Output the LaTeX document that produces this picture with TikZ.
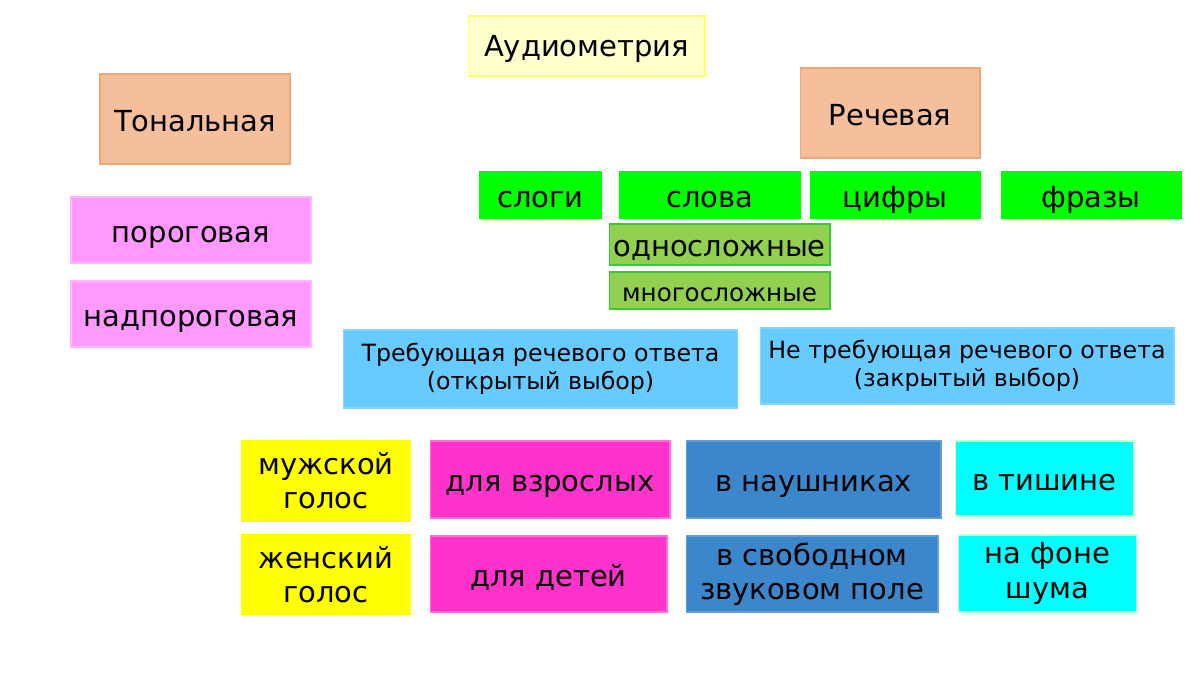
\documentclass[tikz,border=0pt]{standalone}
\usepackage{fontspec}
\setmainfont{DejaVu Sans}

\definecolor{lightyel}{HTML}{FFFFCC}
\definecolor{yelline}{HTML}{FFFF66}
\definecolor{pureyellow}{HTML}{FFFF00}
\definecolor{peach}{HTML}{F5BF9B}
\definecolor{peachline}{HTML}{F0A878}
\definecolor{pinklight}{HTML}{FF99FF}
\definecolor{brightgreen}{HTML}{00FF00}
\definecolor{olivegreen}{HTML}{92D050}
\definecolor{oliveline}{HTML}{33CC33}
\definecolor{skyblue}{HTML}{66CCFF}
\definecolor{hotpink}{HTML}{FF33CC}
\definecolor{midblue}{HTML}{3C87CC}
\definecolor{aqua}{HTML}{00FFFF}
\definecolor{aqualine}{HTML}{CCFFCC}

\begin{document}
\begin{tikzpicture}[x=0.02cm, y=-0.02cm,
    box/.style={rectangle, inner sep=0pt, outer sep=0pt, line width=0.6pt,
      font=\fontsize{16.5}{19.5}\selectfont, text height=14pt, text depth=0pt},
    twoline/.style={align=center, text height=, text depth=},
    small/.style={font=\fontsize{13.5}{16}\selectfont}]
    \useasboundingbox[fill=white] (0,0) rectangle (1200,675);

    % title
    \node[box, draw=yelline, fill=lightyel, minimum width=4.74cm, minimum height=1.2cm,
      text height=12.5pt]
      (audio) at (586.5,46) {Аудиометрия};

    % tonal branch
    \node[box, draw=peachline, fill=peach, minimum width=3.8cm, minimum height=1.8cm]
      (tonal) at (195,119) {Тональная};
    \node[box, draw=pinklight!70, fill=pinklight, minimum width=4.8cm, minimum height=1.32cm]
      (porog) at (191,230) {пороговая};
    \node[box, draw=pinklight!70, fill=pinklight, minimum width=4.8cm, minimum height=1.32cm]
      (nadporog) at (191,314) {надпороговая};

    % speech branch
    \node[box, draw=peachline, fill=peach, minimum width=3.6cm, minimum height=1.8cm]
      (speech) at (890,113) {Речевая};
    \node[box, draw=brightgreen, fill=brightgreen, minimum width=2.42cm, minimum height=0.92cm,
      text height=14.7pt]
      (slogi) at (540.5,195) {слоги};
    \node[box, draw=brightgreen, fill=brightgreen, minimum width=3.6cm, minimum height=0.92cm,
      text height=14.7pt]
      (slova) at (710,195) {слова};
    \node[box, draw=brightgreen, fill=brightgreen, minimum width=3.4cm, minimum height=0.92cm,
      text height=14.7pt]
      (cifry) at (895,195) {цифры};
    \node[box, draw=brightgreen, fill=brightgreen, minimum width=3.6cm, minimum height=0.92cm,
      text height=14.7pt]
      (frazy) at (1091,195) {фразы};
    \node[box, draw=oliveline, fill=olivegreen, minimum width=4.42cm, minimum height=0.82cm]
      (odno) at (719.5,244.5) {односложные};
    \node[box, draw=oliveline, fill=olivegreen, minimum width=4.42cm, minimum height=0.74cm,
      font=\fontsize{14}{17}\selectfont, text height=13pt]
      (mnogo) at (719.5,290.5) {многосложные};

    % answer type
    \node[box, twoline, small, draw=skyblue!80, fill=skyblue, minimum width=7.9cm, minimum height=1.56cm]
      (treb) at (540.5,369) {Требующая речевого ответа\\(открытый выбор)};
    \node[box, twoline, small, draw=skyblue!80, fill=skyblue, minimum width=8.28cm, minimum height=1.52cm]
      (netreb) at (967,366) {Не требующая речевого ответа\\(закрытый выбор)};

    % bottom rows
    \node[box, twoline, draw=pureyellow, fill=pureyellow, minimum width=3.36cm, minimum height=1.6cm]
      (muzh) at (326,481) {мужской\\голос};
    \node[box, twoline, draw=pureyellow, fill=pureyellow, minimum width=3.36cm, minimum height=1.58cm]
      (zhen) at (326,574.5) {женский\\голос};
    \node[box, draw=hotpink!70, fill=hotpink, minimum width=4.8cm, minimum height=1.54cm]
      (vzr) at (550,479.5) {для взрослых};
    \node[box, draw=hotpink!70, fill=hotpink, minimum width=4.74cm, minimum height=1.52cm]
      (det) at (548.5,574) {для детей};
    \node[box, draw=midblue!80, fill=midblue, minimum width=5.1cm, minimum height=1.54cm]
      (naush) at (813.5,479.5) {в наушниках};
    \node[box, twoline, draw=midblue!80, fill=midblue, minimum width=5.04cm, minimum height=1.52cm]
      (svob) at (812,574) {в свободном\\звуковом поле};
    \node[box, draw=aqualine, fill=aqua, minimum width=3.58cm, minimum height=1.5cm]
      (tish) at (1044.5,478.5) {в тишине};
    \node[box, twoline, draw=aqualine, fill=aqua, minimum width=3.58cm, minimum height=1.54cm]
      (shum) at (1047.5,573.5) {на фоне\\шума};
\end{tikzpicture}
\end{document}
